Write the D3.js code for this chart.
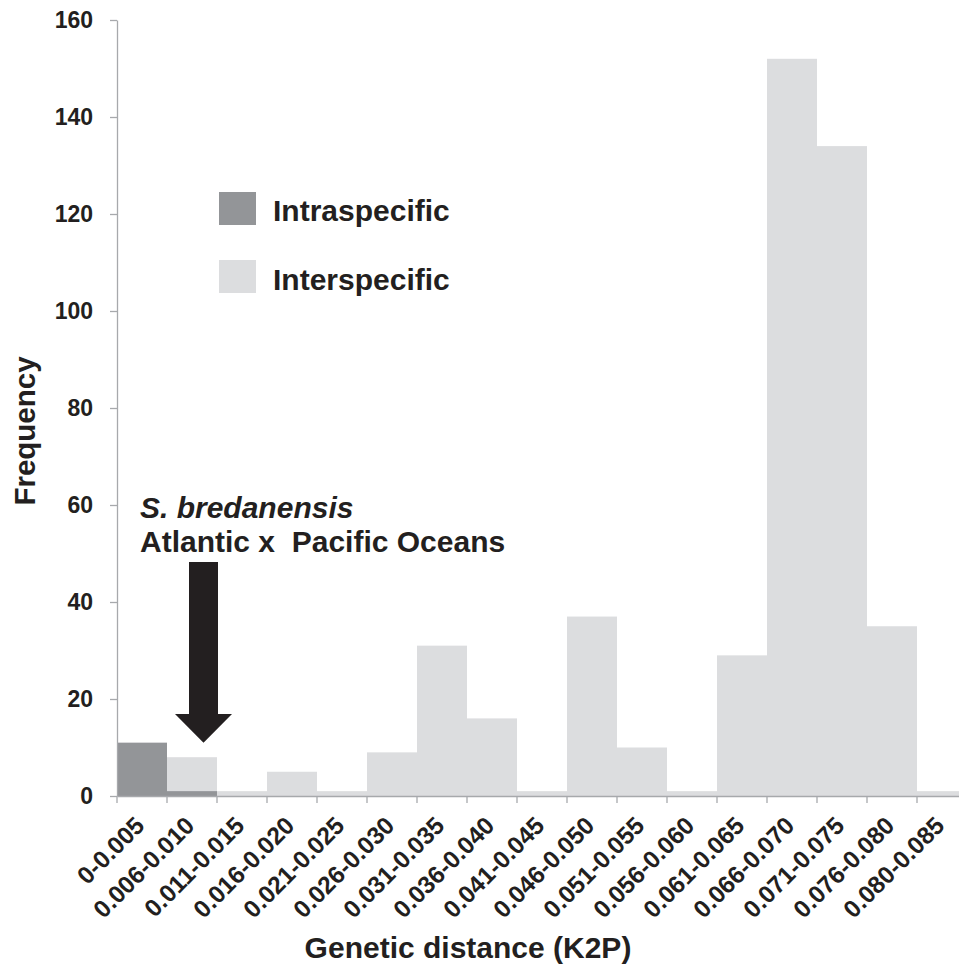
<!DOCTYPE html>
<html>
<head>
<meta charset="utf-8">
<script src="https://cdn.jsdelivr.net/npm/d3@7"></script>
<style>
  html, body { margin: 0; padding: 0; background: #fff; }
  svg { display: block; font-family: "Liberation Sans", Arial, sans-serif; }
</style>
</head>
<body>
<svg id="chart" width="959" height="965"></svg>
<script>
const categories = ["0-0.005","0.006-0.010","0.011-0.015","0.016-0.020","0.021-0.025","0.026-0.030",
  "0.031-0.035","0.036-0.040","0.041-0.045","0.046-0.050","0.051-0.055","0.056-0.060",
  "0.061-0.065","0.066-0.070","0.071-0.075","0.076-0.080","0.080-0.085"];
const interspecific = [0, 8, 1, 5, 1, 9, 31, 16, 1, 37, 10, 1, 29, 152, 134, 35, 1];
const intraspecific = [11, 1, 0, 0, 0, 0, 0, 0, 0, 0, 0, 0, 0, 0, 0, 0, 0];
const yTicks = [0, 20, 40, 60, 80, 100, 120, 140, 160];
const seriesNames = ["Intraspecific", "Interspecific"];

(function () {
const darkCol = "#939598", lightCol = "#dcdddf", textCol = "#231f20", axisCol = "#a7a9ac";

const svg = d3.select("#chart");
const mLeft = 117, mBottom = 796, mTop = 20, bw = 50;

const x = d3.scaleBand().domain(categories).range([mLeft, mLeft + bw * categories.length]).padding(0);
const y = d3.scaleLinear().domain([0, 160]).range([mBottom, mTop]);

// bars
svg.append("g").selectAll("rect").data(categories).join("rect")
  .attr("x", d => x(d)).attr("width", x.bandwidth())
  .attr("y", (d, i) => y(interspecific[i]))
  .attr("height", (d, i) => y(0) - y(interspecific[i]))
  .attr("fill", lightCol);
svg.append("g").selectAll("rect").data(categories).join("rect")
  .attr("x", d => x(d)).attr("width", x.bandwidth())
  .attr("y", (d, i) => y(intraspecific[i]))
  .attr("height", (d, i) => y(0) - y(intraspecific[i]))
  .attr("fill", darkCol);

// y axis
const yAxis = svg.append("g").attr("transform", `translate(${mLeft},0)`)
  .call(d3.axisLeft(y).tickValues(yTicks).tickSize(7).tickPadding(17).tickSizeOuter(0));
yAxis.select(".domain").attr("stroke", axisCol).attr("stroke-width", 1.3);
yAxis.selectAll(".tick line").attr("stroke", axisCol).attr("stroke-width", 1.3);
yAxis.selectAll(".tick text").attr("fill", textCol).attr("font-size", 23).attr("font-weight", "bold")
  .attr("font-family", "Liberation Sans, Arial, sans-serif");

// x axis
const xAxis = svg.append("g").attr("transform", `translate(0,${mBottom})`)
  .call(d3.axisBottom(x).tickSize(0).tickSizeOuter(0));
xAxis.select(".domain").attr("stroke", axisCol).attr("stroke-width", 1.5);
xAxis.selectAll(".tick text")
  .attr("fill", textCol).attr("font-size", 24.5).attr("font-weight", "bold")
  .attr("font-family", "Liberation Sans, Arial, sans-serif")
  .attr("text-anchor", "end").attr("dy", null).attr("y", null)
  .attr("transform", "translate(4,31) rotate(-45)");
// boundary ticks
const bounds = categories.map(c => x(c)).concat([x(categories[categories.length - 1]) + x.bandwidth()]);
svg.append("g").selectAll("line").data(bounds).join("line")
  .attr("x1", d => d).attr("x2", d => d)
  .attr("y1", mBottom).attr("y2", mBottom + 7)
  .attr("stroke", axisCol).attr("stroke-width", 1.3);

// axis titles
svg.append("text").attr("x", 468).attr("y", 958).attr("text-anchor", "middle")
  .attr("font-size", 30).attr("font-weight", "bold").attr("fill", textCol)
  .text("Genetic distance (K2P)");
svg.append("text").attr("transform", "translate(35,431) rotate(-90)").attr("text-anchor", "middle")
  .attr("font-size", 29.5).attr("font-weight", "bold").attr("fill", textCol)
  .text("Frequency");

// legend
const legend = svg.append("g");
[[darkCol, 192, 221], [lightCol, 260, 290]].forEach((l, i) => {
  legend.append("rect").attr("x", 219).attr("y", l[1]).attr("width", 37).attr("height", 33).attr("fill", l[0]);
  legend.append("text").attr("x", 273).attr("y", l[2]).attr("font-size", 30).attr("font-weight", "bold")
    .attr("fill", textCol).text(seriesNames[i]);
});

// annotation
svg.append("text").attr("x", 140).attr("y", 518).attr("font-size", 30).attr("font-weight", "bold")
  .attr("font-style", "italic").attr("fill", textCol).text("S. bredanensis");
svg.append("text").attr("x", 140).attr("y", 552).attr("font-size", 30).attr("font-weight", "bold")
  .attr("fill", textCol).style("white-space", "pre")
  .text("Atlantic x  Pacific Oceans");

// arrow
const tipX = x(categories[1]) + 0.73 * x.bandwidth(), tipY = y(11);
const arrow = d3.path();
arrow.moveTo(tipX - 14.5, 562);
arrow.lineTo(tipX + 14.5, 562);
arrow.lineTo(tipX + 14.5, 714);
arrow.lineTo(tipX + 28.5, 714);
arrow.lineTo(tipX, tipY);
arrow.lineTo(tipX - 28.5, 714);
arrow.lineTo(tipX - 14.5, 714);
arrow.closePath();
svg.append("path").attr("d", arrow.toString()).attr("fill", textCol);
})();
</script>
</body>
</html>
